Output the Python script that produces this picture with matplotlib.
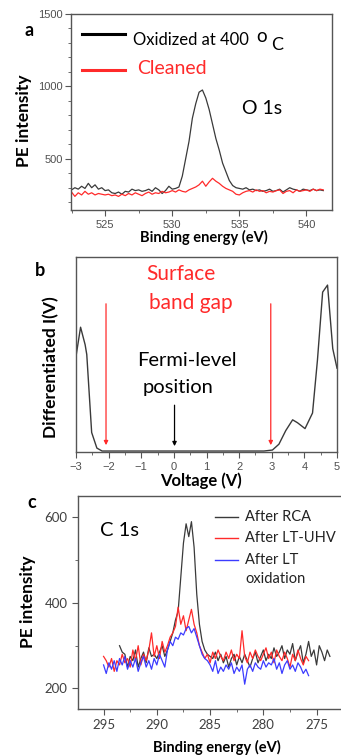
import numpy as np
import matplotlib
matplotlib.use("Agg")
import matplotlib.pyplot as plt
from matplotlib.lines import Line2D
from matplotlib.ticker import MultipleLocator

W, H = 341, 756
fig = plt.figure(figsize=(W / 100, H / 100), dpi=100)
FONT = ["Lato", "DejaVu Sans"]
TICKFONT = ["Liberation Sans", "DejaVu Sans"]

def fx(px):
    return px / W

def fy(py):
    return 1 - py / H

def axes_px(left, top, right, bottom):
    return fig.add_axes([fx(left), fy(bottom), (right - left) / W, (bottom - top) / H])

# ---------------- data: panel a (O 1s) ----------------
a_start, a_step = 522.5, 0.25
a_oxidized = [285, 300, 290, 310, 295, 330, 300, 320, 290, 300,
              280, 285, 265, 260, 270, 255, 275, 270, 290, 280,
              285, 275, 280, 290, 275, 300, 285, 260, 280, 310,
              290, 295, 305, 380, 500, 620, 780, 880, 960, 975,
              920, 840, 740, 640, 560, 470, 410, 350, 315, 300,
              295, 290, 300, 285, 290, 280, 285, 275, 280, 290,
              275, 280, 290, 270, 285, 300, 290, 285, 275, 290,
              285, 280, 290, 280, 285, 280]
a_cleaned = [270, 240, 265, 250, 275, 255, 265, 250, 260, 255,
             250, 255, 245, 250, 240, 255, 245, 260, 250, 265,
             255, 245, 260, 270, 255, 265, 260, 275, 265, 270,
             280, 270, 285, 275, 270, 285, 295, 305, 320, 345,
             310, 340, 365, 345, 330, 310, 295, 285, 275, 255,
             250, 265, 275, 280, 270, 285, 275, 280, 265, 275,
             270, 280, 285, 260, 275, 280, 265, 285, 275, 280,
             285, 275, 290, 280, 290, 285]
a_xticks = [525, 530, 535, 540]
a_yticks = [500, 1000, 1500]

# ---------------- data: panel b (dI/dV) ----------------
b_voltage = [-3.0, -2.86, -2.72, -2.67, -2.52, -2.36, -2.2, -1.45,
             2.76, 3.02, 3.22, 3.43, 3.64, 3.79, 4.02, 4.25, 4.40,
             4.56, 4.71, 4.87, 5.0]
b_signal = [0.49, 0.64, 0.55, 0.50, 0.10, 0.02, 0.005, 0.005,
            0.005, 0.01, 0.04, 0.11, 0.165, 0.15, 0.12, 0.20, 0.47,
            0.82, 0.856, 0.53, 0.43]
b_gap_edges = [-2.08, 2.97]
b_fermi = 0.02
b_xticks = [-3, -2, -1, 0, 1, 2, 3, 4, 5]

# ---------------- data: panel c (C 1s) ----------------
c_rca_start, c_step = 293.5, 0.25
c_rca = [300, 285, 280, 250, 275, 265, 290, 250, 270, 285,
         260, 295, 275, 280, 270, 285, 300, 275, 290, 310,
         330, 360, 380, 460, 540, 585, 555, 590, 530, 420,
         350, 310, 290, 280, 275, 270, 285, 265, 280, 260,
         275, 250, 270, 280, 255, 275, 260, 280, 265, 250,
         270, 285, 260, 275, 290, 265, 280, 270, 295, 275,
         285, 300, 270, 290, 280, 305, 265, 285, 300, 260,
         280, 310, 275, 290, 255, 300, 285, 265, 290, 275]
c_uhv_start = 295.0
c_uhv = [275, 265, 250, 270, 240, 265, 255, 280, 260, 270,
         250, 290, 265, 300, 255, 280, 265, 290, 330, 275,
         300, 270, 310, 285, 300, 320, 330, 345, 390, 350,
         370, 335, 360, 385, 350, 330, 300, 285, 270, 280,
         260, 285, 270, 290, 275, 265, 285, 270, 290, 265,
         280, 270, 335, 275, 260, 285, 270, 290, 275, 265,
         280, 295, 270, 285, 260, 290, 275, 265, 285, 270,
         250, 280, 265, 290, 270, 255, 275, 265]
c_ox_start = 295.0
c_ox = [255, 235, 260, 245, 265, 240, 270, 255, 275, 245,
        265, 250, 270, 240, 260, 275, 250, 265, 245, 270,
        255, 280, 265, 250, 290, 310, 300, 320, 315, 330,
        325, 340, 345, 330, 340, 320, 300, 280, 270, 265,
        255, 240, 265, 235, 250, 240, 255, 245, 260, 235,
        250, 240, 255, 210, 245, 255, 240, 260, 250, 245,
        265, 250, 260, 255, 270, 245, 260, 235, 255, 265,
        245, 255, 240, 260, 250, 235, 245, 230]
c_labels = ["After RCA", "After LT-UHV", "After LT", "oxidation"]
c_xticks = [295, 290, 285, 280, 275]
c_yticks = [200, 400, 600]

GRAY = "#555555"
DARK = "#3a3a3a"
RED = "#ff2a2a"
BLUE = "#3c3cff"

def style_axes(ax, tickfont, ticksize, tickcolor):
    for s in ax.spines.values():
        s.set_color(GRAY)
        s.set_linewidth(1.0)
    ax.tick_params(which="both", direction="out", color=GRAY, labelcolor=tickcolor,
                   labelsize=ticksize)
    ax.tick_params(which="major", length=4)
    ax.tick_params(which="minor", length=2)
    for lab in ax.get_xticklabels() + ax.get_yticklabels():
        lab.set_family(tickfont)

# ---------------- panel a ----------------
ax1 = axes_px(71, 14, 332, 210)
ea = a_start + a_step * np.arange(len(a_oxidized))
er = a_start + a_step * np.arange(len(a_cleaned))
ax1.plot(ea, a_oxidized, color=DARK, lw=0.9)
ax1.plot(er, a_cleaned, color=RED, lw=0.9)
ax1.set_xlim(522.46, 541.9)
ax1.set_ylim(146, 1500)
ax1.set_xticks(a_xticks)
ax1.set_yticks(a_yticks)
ax1.xaxis.set_minor_locator(MultipleLocator(2.5))
ax1.yaxis.set_minor_locator(MultipleLocator(100))
style_axes(ax1, TICKFONT, 8, "#505050")
ax1.tick_params(axis="y", pad=2)

fig.text(fx(29), fy(30), "a", fontsize=13, fontweight="bold", family=FONT, ha="center", va="center")
fig.text(fx(24), fy(121), "PE intensity", fontsize=12.5, fontweight="bold", family=FONT,
         rotation=90, ha="center", va="center")
fig.text(fx(204), fy(237), "Binding energy (eV)", fontsize=10.5, fontweight="bold", family=FONT,
         ha="center", va="center")
fig.add_artist(Line2D([fx(82), fx(125)], [fy(34), fy(34)], color="black", lw=2.2))
fig.add_artist(Line2D([fx(82), fx(125)], [fy(70), fy(70)], color=RED, lw=2.2))
main = fig.text(fx(133), fy(45), "Oxidized at 400", fontsize=12, family=FONT,
                ha="left", va="baseline")
renderer = fig.canvas.get_renderer()
bb = main.get_window_extent(renderer)
xend = bb.x1  # display pixels from left
fig.text((xend + 7) / W, fy(42), "o", fontsize=13.5, family=FONT, ha="left", va="baseline")
fig.text((xend + 22) / W, fy(50), "C", fontsize=13, family=FONT, ha="left", va="baseline")
fig.text(fx(137), fy(68), "Cleaned", fontsize=14, family=FONT, color=RED, ha="left", va="center")
fig.text(fx(242), fy(108), "O 1s", fontsize=14, family=FONT, ha="left", va="center")

# ---------------- panel b ----------------
ax2 = axes_px(76, 257, 337, 452)
ax2.plot(b_voltage, b_signal, color=DARK, lw=1.0)
ax2.set_xlim(-3, 5)
ax2.set_ylim(0, 1)
ax2.set_xticks(b_xticks)
ax2.xaxis.set_minor_locator(MultipleLocator(0.5))
ax2.set_yticks([])
style_axes(ax2, TICKFONT, 8, "#505050")
for xe in b_gap_edges:
    ax2.annotate("", xy=(xe, 0.035), xytext=(xe, 0.76),
                 arrowprops=dict(arrowstyle="-|>", color=RED, lw=0.9,
                                 mutation_scale=6, shrinkA=0, shrinkB=0))
ax2.annotate("", xy=(b_fermi, 0.03), xytext=(b_fermi, 0.24),
             arrowprops=dict(arrowstyle="-|>", color="black", lw=0.9,
                             mutation_scale=6, shrinkA=0, shrinkB=0))

fig.text(fx(40), fy(270), "b", fontsize=13, fontweight="bold", family=FONT, ha="center", va="center")
fig.text(fx(51), fy(367), "Differentiated I(V)", fontsize=12.5, fontweight="bold", family=FONT,
         rotation=90, ha="center", va="center")
fig.text(fx(201), fy(481), "Voltage (V)", fontsize=12, fontweight="bold", family=FONT,
         ha="center", va="center")
fig.text(fx(181), fy(274), "Surface", fontsize=15, family=FONT, color=RED, ha="center", va="center")
fig.text(fx(191), fy(303), "band gap", fontsize=15, family=FONT, color=RED, ha="center", va="center")
fig.text(fx(187), fy(360), "Fermi-level", fontsize=14.5, family=FONT, ha="center", va="center")
fig.text(fx(178), fy(388), "position", fontsize=14.5, family=FONT, ha="center", va="center")

# ---------------- panel c ----------------
ax3 = axes_px(78, 496, 356, 709)
e1 = c_rca_start - c_step * np.arange(len(c_rca))
e2 = c_uhv_start - c_step * np.arange(len(c_uhv))
e3 = c_ox_start - c_step * np.arange(len(c_ox))
ax3.plot(e1, c_rca, color=DARK, lw=0.9)
ax3.plot(e2, c_uhv, color=RED, lw=0.9)
ax3.plot(e3, c_ox, color=BLUE, lw=0.9)
ax3.set_xlim(297.4, 271.3)
ax3.set_ylim(152, 650)
ax3.set_xticks(c_xticks)
ax3.set_yticks(c_yticks)
ax3.xaxis.set_minor_locator(MultipleLocator(2.5))
ax3.yaxis.set_minor_locator(MultipleLocator(100))
style_axes(ax3, FONT, 9.5, "#404040")

fig.text(fx(32), fy(503), "c", fontsize=13, fontweight="bold", family=FONT, ha="center", va="center")
fig.text(fx(28), fy(602), "PE intensity", fontsize=12.5, fontweight="bold", family=FONT,
         rotation=90, ha="center", va="center")
fig.text(fx(217), fy(747), "Binding energy (eV)", fontsize=10.5, fontweight="bold", family=FONT,
         ha="center", va="center")
fig.text(fx(100), fy(530), "C 1s", fontsize=14.5, family=FONT, ha="left", va="center")
for ypx, col in zip([517, 538, 560], [DARK, RED, BLUE]):
    fig.add_artist(Line2D([fx(215), fx(238)], [fy(ypx), fy(ypx)], color=col, lw=1.0))
for ypx, lab in zip([517, 538, 560, 579], c_labels):
    fig.text(fx(245), fy(ypx), lab, fontsize=10.5, family=FONT, color="#222222",
             ha="left", va="center")

fig.savefig("out.png", dpi=100)
